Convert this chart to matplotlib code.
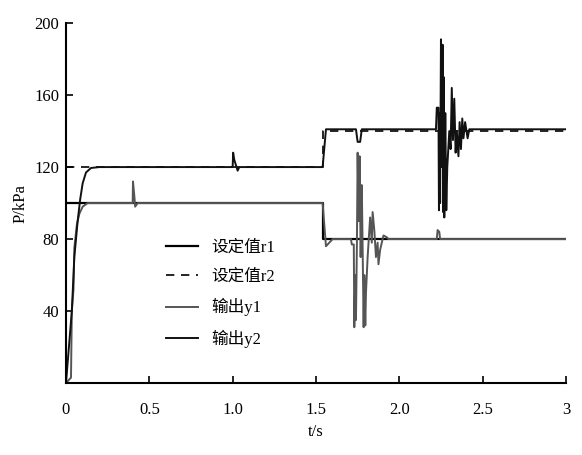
import numpy as np
import matplotlib.pyplot as plt

plt.rcParams['font.family'] = ['Liberation Serif', 'Noto Sans CJK SC', 'DejaVu Sans']

# setpoints (step at t = 1.54)
t_r = [0.0, 1.54, 1.54, 3.0]
r1 = [100, 100, 80, 80]
r2 = [120, 120, 140, 140]

# output y1
t_y1 = [0.0, 0.03, 0.035, 0.045, 0.05, 0.065, 0.08, 0.1, 0.13, 0.2,
        0.40, 0.402, 0.41, 0.415, 0.43, 1.54, 1.56, 1.60, 1.71, 1.715,
        1.727, 1.730, 1.736, 1.740, 1.746, 1.750, 1.756, 1.762, 1.768, 1.775,
        1.780, 1.786, 1.790, 1.796, 1.800, 1.810, 1.825, 1.835, 1.840, 1.850,
        1.860, 1.870, 1.875, 1.885, 1.895, 1.905, 1.925, 1.935, 2.225, 2.23,
        2.24, 2.245, 3.0]
y1 = [0, 3, 40, 52, 75, 88, 94, 98, 100, 100,
      100, 112, 104, 98, 100, 100, 76, 80, 80, 77,
      77, 31, 60, 35, 80, 128, 90, 126, 70, 110,
      75, 31, 60, 32, 50, 70, 92, 78, 95, 85,
      70, 78, 66, 74, 78, 82, 81, 80, 80, 85,
      84, 80, 80]

# output y2
t_y2 = [0.0, 0.035, 0.05, 0.07, 0.085, 0.1, 0.12, 0.15, 0.2, 1.0,
        1.003, 1.01, 1.02, 1.03, 1.04, 1.54, 1.56, 1.60, 1.74, 1.75,
        1.765, 1.775, 2.22, 2.225, 2.235, 2.238, 2.242, 2.245, 2.25, 2.255,
        2.26, 2.263, 2.267, 2.27, 2.276, 2.282, 2.288, 2.30, 2.308, 2.315,
        2.322, 2.33, 2.338, 2.345, 2.355, 2.362, 2.37, 2.378, 2.385, 2.395,
        2.41, 2.42, 3.0]
y2 = [0, 40, 70, 90, 102, 111, 117, 119.5, 120, 120,
      128, 124, 121, 118, 120, 120, 141, 141, 141, 134,
      134, 141, 141, 153, 153, 96, 150, 100, 191, 120,
      188, 95, 170, 92, 150, 96, 120, 140, 130, 164,
      135, 158, 128, 140, 126, 145, 130, 147, 136, 145,
      136, 141, 141]

fig = plt.figure(figsize=(5.82, 4.55), dpi=100)
ax = fig.add_axes([0.1134, 0.1582, 0.859, 0.791])

ax.plot(t_r, r1, '-', color='black', lw=1.6, label='设定值r1')
ax.plot(t_r, r2, '--', color='black', lw=1.2, dashes=(5, 4), label='设定值r2')
ax.plot(t_y1, y1, '-', color='#555555', lw=1.4, label='输出y1')
ax.plot(t_y2, y2, '-', color='#111111', lw=1.4, label='输出y2')

ax.set_xlim(0, 3)
ax.set_ylim(0, 200)
ax.set_xticks([0, 0.5, 1.0, 1.5, 2.0, 2.5, 3])
ax.set_xticklabels(['0', '0.5', '1.0', '1.5', '2.0', '2.5', '3'])
ax.set_yticks([40, 80, 120, 160, 200])
ax.tick_params(direction='in', length=5, width=1.2, labelsize=12)
ax.tick_params(axis='x', pad=14)
ax.tick_params(axis='y', pad=5)
for s in ['top', 'right']:
    ax.spines[s].set_visible(False)
for s in ['left', 'bottom']:
    ax.spines[s].set_linewidth(1.5)

ax.set_xlabel('t/s', fontsize=12)
ax.set_ylabel('P/kPa', fontsize=12)

ax.legend(loc='upper left', bbox_to_anchor=(0.17, 0.44), frameon=False,
          fontsize=12, labelspacing=0.8, handlelength=1.9, handletextpad=0.8)

fig.savefig('out.png', dpi=100)
